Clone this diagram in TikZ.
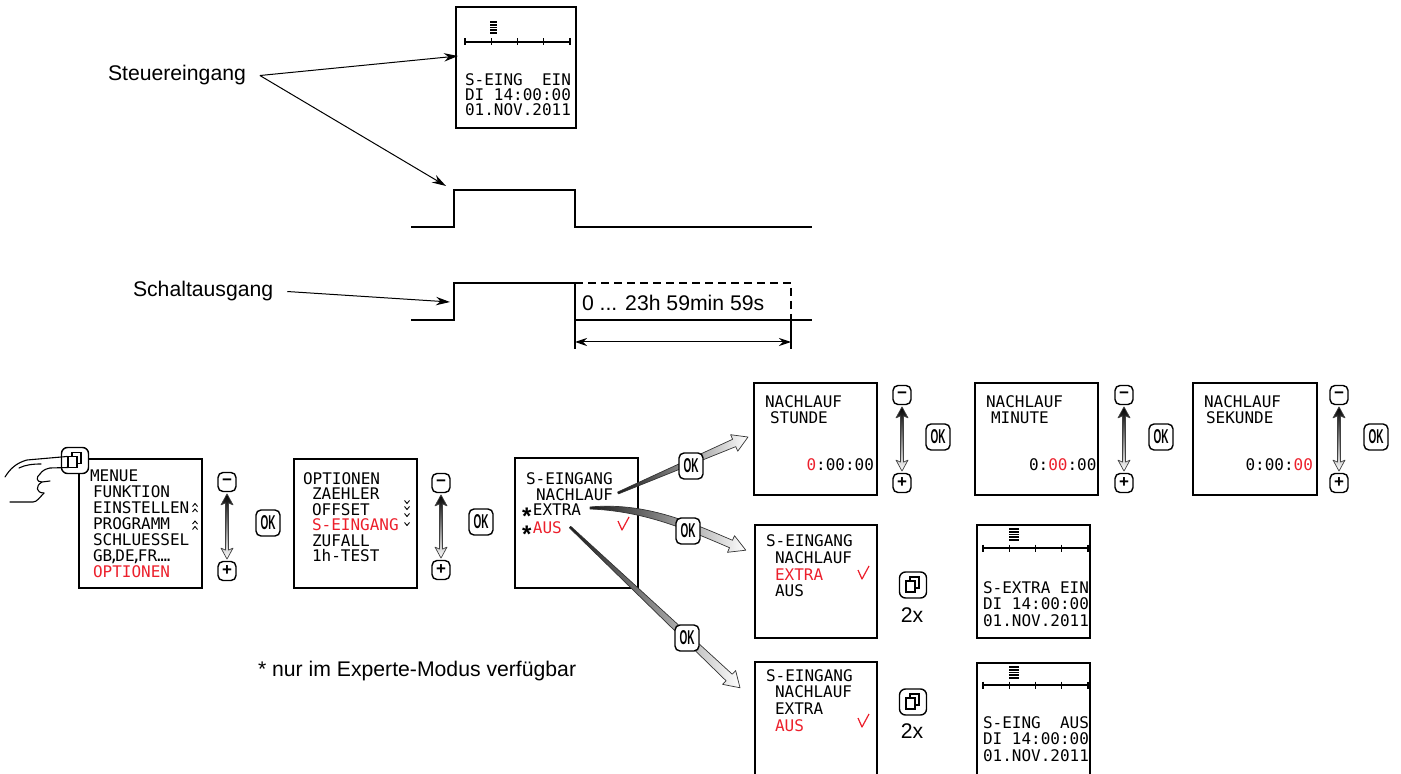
\documentclass[tikz,border=0pt]{standalone}
\usepackage{fontspec}
\setmainfont{Liberation Sans}
\newfontfamily\lcdfont{DejaVu Sans Mono}
\usetikzlibrary{arrows.meta,calc}
\definecolor{lcdred}{RGB}{236,32,44}
\newcommand\np[1]{\kern-1.6pt#1\kern-1.6pt}
\newcommand\rd[1]{\textcolor{lcdred}{#1}}
\newcommand\lcdstar{{\rmfamily\fontsize{12}{12}\selectfont\bfseries\smash{\raisebox{-4.5pt}{*}}}\kern0.8pt}

\tikzset{
  every node/.style={inner sep=0pt, outer sep=0pt},
  lbl/.style={font=\fontsize{10.6}{12}\selectfont, anchor=base west},
  lcd/.style={font=\lcdfont\fontsize{8}{8}\selectfont, anchor=base west},
  lcdr/.style={lcd, text=lcdred},
  screen/.style={draw, line width=0.65pt},
  thinline/.style={line width=0.6pt},
  wave/.style={line width=1.2pt, line join=miter},
  callout/.style={line width=0.5pt, -{Stealth[length=7pt,width=4.2pt]}},
  dimline/.style={line width=0.5pt, {Stealth[length=6pt,width=4pt]}-{Stealth[length=6pt,width=4pt]}},
  okbtn/.style={draw, fill=white, rounded corners=2.5pt, line width=0.7pt, minimum width=12pt, minimum height=13pt, font=\fontsize{10}{10}\selectfont\bfseries},
  pmbtn/.style={draw, fill=white, rounded corners=2.5pt, line width=0.7pt, minimum width=9pt, minimum height=9.5pt, font=\fontsize{8.5}{8.5}\selectfont\bfseries},
  iconbtn/.style={draw, fill=white, rounded corners=3pt, line width=0.7pt, minimum width=13.5pt, minimum height=13pt},
  tapered/.style={left color=black!90, right color=white, draw=black!80, line width=0.35pt, line join=round},
  handline/.style={line width=0.55pt, line cap=round, line join=round},
}

\newcommand\scrollarrow[2]{%
  \shade[top color=black, bottom color=white, draw=black!75, line width=0.35pt, line join=round]
   let \p1=([yshift=-1.2pt]#1.south), \p2=([yshift=1.2pt]#2.north) in
   (\p1) -- ++(3pt,-5.5pt) -- ++(-2.25pt,1pt) -- (\x1+0.75pt,\y2+4.5pt) -- ++(2.25pt,1pt) -- (\p2)
   -- ++(-3pt,5.5pt) -- ++(2.25pt,-1pt) -- (\x1-0.75pt,\y1-4.5pt) -- ++(-2.25pt,-1pt) -- cycle;}
\newcommand\timeline[3]{%
  \draw[thinline] (#1,#3) -- (#2,#3);
  \foreach \k in {0,...,4} \draw[thinline] ({#1+\k*(#2-#1)/4},#3-3.5) -- ({#1+\k*(#2-#1)/4},#3+3.5);}
\newcommand\levelbar[3]{%
  \foreach \k in {0,...,8} \draw[line width=0.4pt] (#1,#3+\k*1.6) -- (#2,#3+\k*1.6);}
\newcommand\menuicon[1]{%
  \draw[line width=0.75pt] ([shift={(-3,-8)}]#1.center) rectangle ([shift={(6,3)}]#1.center);
  \draw[line width=0.95pt, fill=white] ([shift={(-7,-4)}]#1.center) rectangle ([shift={(2,7)}]#1.center);}
\newcommand\redtick[2]{\draw[lcdred, line width=0.6pt, line join=round] (#1-4,#2-1) -- (#1,#2+8) -- (#1+7,#2-5);}
\newcommand\upcaret[2]{\draw[line width=0.45pt] (#1-2.5,#2+1.5) -- (#1,#2-1.5) -- (#1+2.5,#2+1.5);}
\newcommand\downcaret[2]{\draw[line width=0.45pt] (#1-2.5,#2-1.5) -- (#1,#2+1.5) -- (#1+2.5,#2-1.5);}

\begin{document}
\begin{tikzpicture}[x=0.5pt,y=-0.5pt]
\useasboundingbox (0,0) rectangle (1401,774);

% ===== top display
\draw[screen] (456,7) rectangle (576,128);
\timeline{465}{570}{42}
\levelbar{490}{497}{21}
\node[lcd] (topA) at (465,86) {S-EING~~EIN};
\node[lcd] (topB) at (465,101) {DI 14:00:00};
\node[lcd] (topC) at (465,116) {01.NOV.2011};

% ===== labels and signals
\node[lbl] (steuer) at (108,81) {Steuereingang};
\node[lbl] (schalt) at (133,297) {Schaltausgang};
\coordinate (inA) at (458,56);
\coordinate (inB) at (446,186);
\coordinate (outA) at (450,302);
\draw[callout] ([xshift=7pt]steuer.east) -- (inA);
\draw[callout] ([xshift=7pt]steuer.east) -- (inB);
\draw[callout] ([xshift=7pt]schalt.east) -- (outA);

\draw[wave] (411,227) -- (454,227) -- (454,190) -- (575,190) -- (575,227) -- (812,227);
\draw[wave] (411,320) -- (454,320) -- (454,283) -- (575,283) -- (575,320) -- (812,320);
\draw[wave, dash pattern=on 4pt off 2.5pt] (575,283) -- (791,283) -- (791,320);
\draw[thinline] (575,320) -- (575,349);
\draw[thinline] (791,320) -- (791,349);
\coordinate (dimL) at (575,342);
\coordinate (dimR) at (791,342);
\draw[dimline] (dimL) -- (dimR);
\node[lbl] (range) at (582,311) {0 ... 23h 59min 59s};

% ===== menu screen 1
\draw[screen] (79,459) rectangle (202,588);
\node[lcd] (mA) at (90,481) {MENUE};
\node[lcd] (mB) at (93,497) {FUNKTION};
\node[lcd] (mC) at (93,513) {EINSTELLEN};
\node[lcd] (mD) at (93,529) {PROGRAMM};
\node[lcd] (mE) at (93,545) {SCHLUESSEL};
\node[lcd] (mF) at (93,561) {GB\np{,}DE\np{,}FR\np{.}\np{.}\np{.}\np{.}};
\node[lcdr] (mG) at (93,577) {OPTIONEN};
\upcaret{195}{505}\upcaret{195}{510.5}\upcaret{195}{522.5}\upcaret{195}{528}
\node[iconbtn] (key0) at (75,460.5) {};
\draw[handline] (5,477) .. controls (10,469) and (16,463) .. (27,460) -- (67,456.5)
   .. controls (74,456.5) and (75,467) .. (68,467.5) -- (50,468) .. controls (45,469) and (42,471) .. (40,474);
\draw[handline] (19,468) .. controls (25,465) and (32,464) .. (41,464);
\draw[handline] (40,474) .. controls (36,477) and (36,482) .. (42,482) -- (50,481);
\draw[handline] (42,482) .. controls (35,486) and (36,493) .. (44,493);
\draw[handline] (44,493) .. controls (40,497) and (37,502) .. (33,502) -- (10,502);
\menuicon{key0}
\node[pmbtn] (m1) at (227,482) {−};
\node[pmbtn] (p1) at (227,571) {+};
\scrollarrow{m1}{p1}
\node[okbtn] (ok1) at (268,523) {\scalebox{0.5}[1]{OK}};

% ===== menu screen 2
\draw[screen] (294,459) rectangle (417,588);
\node[lcd] (oA) at (303,484) {OPTIONEN};
\node[lcd] (oB) at (312,499.5) {ZAEHLER};
\node[lcd] (oC) at (312,515) {OFFSET};
\node[lcdr] (oD) at (312,530.5) {S-EINGANG};
\node[lcd] (oE) at (312,546) {ZUFALL};
\node[lcd] (oF) at (312,561.5) {1h-TEST};
\downcaret{407}{502}\downcaret{407}{508}\downcaret{407}{515}\downcaret{407}{524}
\node[pmbtn] (m2) at (441,483) {−};
\node[pmbtn] (p2) at (441,570) {+};
\scrollarrow{m2}{p2}
\node[okbtn] (ok2) at (481,522) {\scalebox{0.5}[1]{OK}};

% ===== menu screen 3
\draw[screen] (515,458) rectangle (638,588);
\node[lcd] (sA) at (526,484) {S-EINGANG};
\node[lcd] (sB) at (536,500) {NACHLAUF};
\node[lcd] (sC) at (522,515.5) {\lcdstar EXTRA};
\node[lcd] (sD) at (522,533) {\lcdstar\rd{AUS}};
\redtick{622}{522}

% tapered arrows
\begin{scope}[shift={(618,493)}, rotate=23.3]
  \shade[tapered] (0,-1) -- (126.5,-4) -- (126.5,-9) -- (141.5,0) -- (126.5,9) -- (126.5,4) -- (0,1) -- cycle;
\end{scope}
\shade[tapered] (590,507) .. controls (645,502) and (690,522) .. (732.5,540.3) -- (734.5,535.7) -- (745.8,550.2)
   -- (727.5,552.3) -- (729.5,547.7) .. controls (688,530) and (645,511) .. (590,509) -- cycle;
\begin{scope}[shift={(570,527)}, rotate=-43.4]
  \shade[tapered] (0,-1) -- (219,-4.5) -- (219,-9.5) -- (234,0) -- (219,9.5) -- (219,4.5) -- (0,1) -- cycle;
\end{scope}
\node[okbtn] (okA) at (691,466) {\scalebox{0.5}[1]{OK}};
\node[okbtn] (okB) at (688,531) {\scalebox{0.5}[1]{OK}};
\node[okbtn] (okC) at (687,638) {\scalebox{0.5}[1]{OK}};

% ===== row 1: Nachlauf
\draw[screen] (754,383) rectangle (877,495);
\node[lcd] (nA1) at (765,408) {NACHLAUF};
\node[lcd] (nA2) at (770,424) {STUNDE};
\node[lcd] (nA3) at (806.5,471) {\rd{0}:00:00};
\node[pmbtn] (m3) at (902,395) {−};
\node[pmbtn] (p3) at (902,483) {+};
\scrollarrow{m3}{p3}
\node[okbtn] (ok3) at (938,437) {\scalebox{0.5}[1]{OK}};

\draw[screen] (975,383) rectangle (1098,495);
\node[lcd] (nB1) at (986,408) {NACHLAUF};
\node[lcd] (nB2) at (991,424) {MINUTE};
\node[lcd] (nB3) at (1029,471) {0:\rd{00}:00};
\node[pmbtn] (m4) at (1124,395) {−};
\node[pmbtn] (p4) at (1124,483) {+};
\scrollarrow{m4}{p4}
\node[okbtn] (ok4) at (1161,437) {\scalebox{0.5}[1]{OK}};

\draw[screen] (1193,383) rectangle (1317,495);
\node[lcd] (nC1) at (1204,408) {NACHLAUF};
\node[lcd] (nC2) at (1206,424) {SEKUNDE};
\node[lcd] (nC3) at (1245.5,471) {0:00:\rd{00}};
\node[pmbtn] (m5) at (1339,395) {−};
\node[pmbtn] (p5) at (1339,483) {+};
\scrollarrow{m5}{p5}
\node[okbtn] (ok5) at (1376,437) {\scalebox{0.5}[1]{OK}};

% ===== row 2: Extra
\draw[screen] (755,525) rectangle (877,638);
\node[lcd] (eA) at (766,546) {S-EINGANG};
\node[lcd] (eB) at (775,563) {NACHLAUF};
\node[lcdr] (eC) at (775,580) {EXTRA};
\node[lcd] (eD) at (775,596) {AUS};
\redtick{862}{571}
\node[iconbtn] (key1) at (913,585) {};
\menuicon{key1}
\node[lbl, anchor=base] (twox1) at (912,622) {2x};
\draw[screen] (977,525) rectangle (1090,638);
\timeline{983}{1088}{548}
\levelbar{1009}{1019}{528}
\node[lcd] (xA) at (983,593) {S-EXTRA EIN};
\node[lcd] (xB) at (983,609) {DI 14:00:00};
\node[lcd] (xC) at (983,626) {01.NOV.2011};

% ===== row 3: Aus
\draw[screen] (755,776) -- (755,662) -- (877,662) -- (877,776);
\node[lcd] (aA) at (766,681) {S-EINGANG};
\node[lcd] (aB) at (775,697) {NACHLAUF};
\node[lcd] (aC) at (775,714) {EXTRA};
\node[lcdr] (aD) at (775,731) {AUS};
\redtick{862}{719}
\node[iconbtn] (key2) at (913,702) {};
\menuicon{key2}
\node[lbl, anchor=base] (twox2) at (912,738) {2x};
\draw[screen] (977,776) -- (977,663) -- (1090,663) -- (1090,776);
\timeline{983}{1088}{685}
\levelbar{1009}{1019}{666}
\node[lcd] (yA) at (983,728) {S-EING~~AUS};
\node[lcd] (yB) at (983,744) {DI 14:00:00};
\node[lcd] (yC) at (983,761) {01.NOV.2011};

% ===== footnote
\node[lbl] (foot) at (258,676) {* nur im Experte-Modus verfügbar};
\end{tikzpicture}
\end{document}
